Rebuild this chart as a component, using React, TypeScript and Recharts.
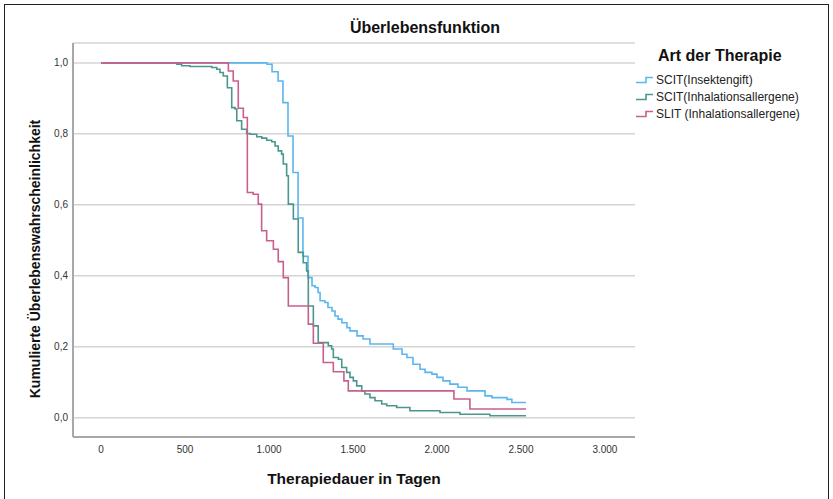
import React from 'react';
import { LineChart, Line, XAxis, YAxis, CartesianGrid } from 'recharts';

// Survival curves (days, cumulative survival)
const scitInsekt: [number, number][] = [
  [0, 1.0], [988, 0.996], [1018, 0.975], [1054, 0.949], [1083, 0.888], [1113, 0.794],
  [1143, 0.691], [1173, 0.563], [1202, 0.455], [1232, 0.395], [1256, 0.372], [1274, 0.367],
  [1292, 0.353], [1304, 0.33], [1333, 0.325], [1351, 0.311], [1375, 0.301], [1393, 0.287],
  [1411, 0.278], [1434, 0.268], [1464, 0.254], [1482, 0.245], [1524, 0.231], [1560, 0.222],
  [1601, 0.208], [1740, 0.194], [1792, 0.179], [1821, 0.17], [1857, 0.151], [1899, 0.137],
  [1929, 0.128], [1970, 0.123], [2000, 0.114], [2036, 0.104], [2077, 0.095], [2125, 0.086],
  [2179, 0.076], [2286, 0.062], [2327, 0.057], [2417, 0.052], [2446, 0.043], [2530, 0.043],
];

const scitInhal: [number, number][] = [
  [0, 1.0], [451, 0.996], [480, 0.992], [530, 0.99], [659, 0.987], [689, 0.982], [708, 0.973],
  [728, 0.963], [752, 0.93], [778, 0.874], [798, 0.87], [808, 0.837], [837, 0.813], [867, 0.801],
  [887, 0.799], [927, 0.792], [957, 0.788], [986, 0.782], [1016, 0.778], [1036, 0.766],
  [1055, 0.752], [1075, 0.743], [1085, 0.715], [1105, 0.682], [1115, 0.602], [1145, 0.56],
  [1174, 0.466], [1204, 0.437], [1224, 0.414], [1234, 0.315], [1264, 0.259], [1293, 0.212],
  [1353, 0.203], [1373, 0.194], [1383, 0.17], [1413, 0.165], [1433, 0.142], [1462, 0.128],
  [1482, 0.114], [1502, 0.104], [1522, 0.09], [1552, 0.076], [1571, 0.067], [1601, 0.057],
  [1631, 0.048], [1671, 0.039], [1701, 0.034], [1760, 0.029], [1839, 0.02], [2018, 0.015],
  [2137, 0.01], [2315, 0.006], [2530, 0.006],
];

const slitInhal: [number, number][] = [
  [0, 1.0], [758, 0.977], [787, 0.949], [817, 0.872], [847, 0.846], [871, 0.635], [906, 0.63],
  [936, 0.602], [956, 0.527], [986, 0.499], [1026, 0.475], [1055, 0.44], [1085, 0.395],
  [1115, 0.315], [1234, 0.264], [1264, 0.21], [1323, 0.156], [1383, 0.13], [1446, 0.104],
  [1472, 0.076], [2101, 0.053], [2196, 0.025], [2530, 0.025],
];

const seriesNames = ['SCIT(Insektengift)', 'SCIT(Inhalationsallergene)', 'SLIT (Inhalationsallergene)'];
const seriesColors = ['#5cb6ee', '#4a978d', '#c95f8c'];
const seriesData = [scitInsekt, scitInhal, slitInhal];

const xTicks = [0, 500, 1000, 1500, 2000, 2500, 3000];
const yTicks = [0, 0.2, 0.4, 0.6, 0.8, 1.0];

const FONT = 'Arial, "Liberation Sans", sans-serif';

const fmtX = (v: number) => v.toLocaleString('de-DE');
const fmtY = (v: number) => v.toFixed(1).replace('.', ',');

const toRows = (arr: [number, number][]) => arr.map(([t, s]) => ({ t, s }));

const StepIcon = ({ color }: { color: string }) => (
  <svg width={17} height={8} style={{ display: 'block' }}>
    <polyline points="0,6.5 10,6.5 10,1.5 17,1.5" fill="none" stroke={color} strokeWidth={1.6} />
  </svg>
);

export default function App() {
  return (
    <div style={{ position: 'absolute', left: 0, top: 0, width: 833, height: 499, background: '#fff', fontFamily: FONT }}>
      <div style={{ position: 'absolute', left: 4, top: 4, width: 823, height: 500, border: '1.5px solid #222', borderBottom: 'none' }} />
      <div style={{ position: 'absolute', left: 0, top: 19, width: 850, textAlign: 'center', fontSize: 16, fontWeight: 'bold', color: '#111' }}>
        Überlebensfunktion
      </div>
      <div style={{ position: 'absolute', left: 0, top: 0 }}>
        <LineChart width={833} height={499} margin={{ top: 43, right: 198, bottom: 42, left: 33 }}>
          <CartesianGrid vertical={false} stroke="#d4d4d4" strokeWidth={1.5} />
          <XAxis
            type="number"
            dataKey="t"
            domain={[-167, 3179]}
            ticks={xTicks}
            allowDataOverflow
            tickFormatter={fmtX}
            tickLine={false}
            tickSize={0}
            tickMargin={9}
            height={20}
            axisLine={{ stroke: '#a8a8a8', strokeWidth: 2 }}
            tick={{ fontSize: 10, fill: '#333', fontFamily: FONT }}
          />
          <YAxis
            type="number"
            dataKey="s"
            domain={[-0.054, 1.056]}
            ticks={yTicks}
            allowDataOverflow
            tickFormatter={fmtY}
            tickLine={false}
            tickSize={0}
            tickMargin={5}
            width={40}
            axisLine={{ stroke: '#a8a8a8', strokeWidth: 2 }}
            tick={{ fontSize: 10, fill: '#333', fontFamily: FONT }}
          />
          {seriesData.map((d, i) => (
            <Line
              key={seriesNames[i]}
              data={toRows(d)}
              dataKey="s"
              name={seriesNames[i]}
              type="stepAfter"
              stroke={seriesColors[i]}
              strokeWidth={1.6}
              dot={false}
              activeDot={false}
              isAnimationActive={false}
            />
          ))}
        </LineChart>
      </div>
      <div style={{ position: 'absolute', left: 35, top: 260, width: 0, height: 0 }}>
        <div style={{ position: 'absolute', left: -200, top: -9, width: 400, textAlign: 'center', transform: 'rotate(-90deg)', fontSize: 14, fontWeight: 'bold', color: '#111', whiteSpace: 'nowrap' }}>
          Kumulierte Überlebenswahrscheinlichkeit
        </div>
      </div>
      <div style={{ position: 'absolute', left: 154, top: 470, width: 400, textAlign: 'center', fontSize: 15.5, fontWeight: 'bold', color: '#111' }}>
        Therapiedauer in Tagen
      </div>
      <div style={{ position: 'absolute', left: 658, top: 47, fontSize: 16, fontWeight: 'bold', color: '#111' }}>
        Art der Therapie
      </div>
      <div style={{ position: 'absolute', left: 636, top: 71 }}>
        {seriesNames.map((n, i) => (
          <div key={n} style={{ display: 'flex', alignItems: 'center', height: 17 }}>
            <StepIcon color={seriesColors[i]} />
            <span style={{ fontSize: 12, color: '#222', marginLeft: 3 }}>{n}</span>
          </div>
        ))}
      </div>
    </div>
  );
}
